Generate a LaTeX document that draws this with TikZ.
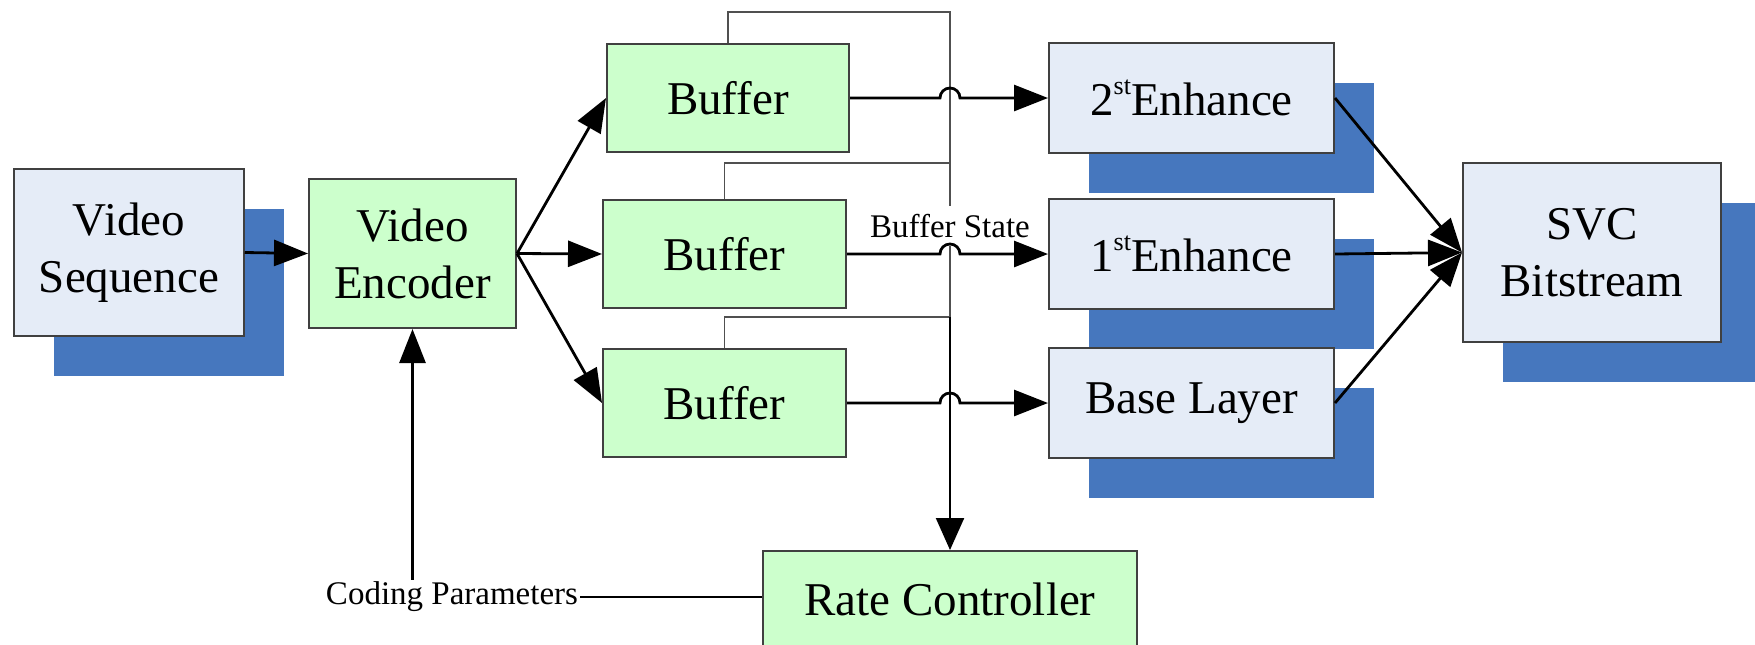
\documentclass[tikz,border=0pt]{standalone}
\usepackage{fontspec}
\setmainfont{Liberation Serif}
\usetikzlibrary{arrows.meta,shadows}
\definecolor{shblue}{RGB}{70,119,190}
\definecolor{paleblue}{RGB}{229,236,247}
\definecolor{palegreen}{RGB}{204,255,204}
\definecolor{edgegray}{RGB}{64,64,64}
\definecolor{tapgray}{RGB}{80,80,80}
% small raised ordinal suffix
\newcommand{\ordsfx}[1]{\raisebox{0.45em}{\fontsize{13}{13}\selectfont #1}}

\begin{document}
\begin{tikzpicture}[x=0.5pt,y=-0.5pt,
  box/.style={draw=edgegray, line width=1pt, inner sep=0pt, align=center,
    font=\fontsize{23.5}{28.5}\selectfont},
  greenbox/.style={box, fill=palegreen},
  bluebox/.style={box, fill=paleblue,
    general shadow={fill=shblue, shadow xshift=20pt, shadow yshift=-20pt}},
  flow/.style={line width=1.4pt, -{Triangle[length=17pt,width=13pt]}},
  plainflow/.style={line width=1.4pt},
  tap/.style={draw=tapgray, line width=0.85pt},
  small/.style={font=\fontsize{16.5}{19}\selectfont, inner sep=1pt},
]
\useasboundingbox (0,0) rectangle (1755,644);

% blocks
\node[bluebox, minimum width=114.75pt, minimum height=83.5pt] (vs) at (129,252.5) {Video\\Sequence};
\node[greenbox, minimum width=103.5pt, minimum height=74.5pt] (ve) at (412.5,253.5) {Video\\Encoder};
\node[greenbox, minimum width=121pt, minimum height=54pt] (b1) at (728,98) {Buffer};
\node[greenbox, minimum width=121.5pt, minimum height=54pt] (b2) at (724.5,254) {Buffer};
\node[greenbox, minimum width=121.5pt, minimum height=54pt] (b3) at (724.5,403) {Buffer};
\node[bluebox, minimum width=142.5pt, minimum height=55pt] (e2) at (1191.5,98) {2\ordsfx{st}Enhance};
\node[bluebox, minimum width=142.5pt, minimum height=55pt] (e1) at (1191.5,254) {1\ordsfx{st}Enhance};
\node[bluebox, minimum width=142.5pt, minimum height=55pt] (bl) at (1191.5,403) {Base Layer};
\node[bluebox, minimum width=129pt, minimum height=89.5pt] (svc) at (1592,252.5) {SVC\\Bitstream};
\node[greenbox, minimum width=187pt, minimum height=48pt] (rc) at (950,599) {Rate Controller};
\node[small] (cp) at (452,597) {Coding Parameters};

% encoder path
\draw[flow] (vs.east) -- (ve.west);
\draw[flow] (ve.east) -- (b1.west);
\draw[flow] (ve.east) -- (b2.west);
\draw[flow] (ve.east) -- (b3.west);

% buffer state feedback
\coordinate (t1) at (950,12);
\coordinate (t2) at (950,163);
\coordinate (t3) at (950,317);
\draw[tap] (b1.north) |- (t1) -- (t3);
\draw[tap] (b2.north) |- (t2);
\draw[tap] (b3.north) |- (t3);
\draw[line width=1.1pt, -{Triangle[length=16pt,width=14pt]}] (t3) -- (rc.north);
\node[small, fill=white, inner xsep=1pt, inner ysep=4pt] (bs) at (950,226) {Buffer State};

% layers, hopping over the feedback line
\draw[flow] (b1.east) -- ([xshift=-5pt]b1.east -| t1) arc[start angle=180, end angle=0, radius=5pt] -- (e2.west);
\draw[flow] (b2.east) -- ([xshift=-5pt]b2.east -| t1) arc[start angle=180, end angle=0, radius=5pt] -- (e1.west);
\draw[flow] (b3.east) -- ([xshift=-5pt]b3.east -| t1) arc[start angle=180, end angle=0, radius=5pt] -- (bl.west);

% layers into the bitstream
\draw[flow] (e2.east) -- (svc.west);
\draw[flow] (e1.east) -- (svc.west);
\draw[flow] (bl.east) -- (svc.west);

% coding parameters back to the encoder
\draw[flow] (cp.north -| ve.south) -- (ve.south);
\draw[plainflow] (cp.east) -- (cp.east -| rc.west);
\end{tikzpicture}
\end{document}
